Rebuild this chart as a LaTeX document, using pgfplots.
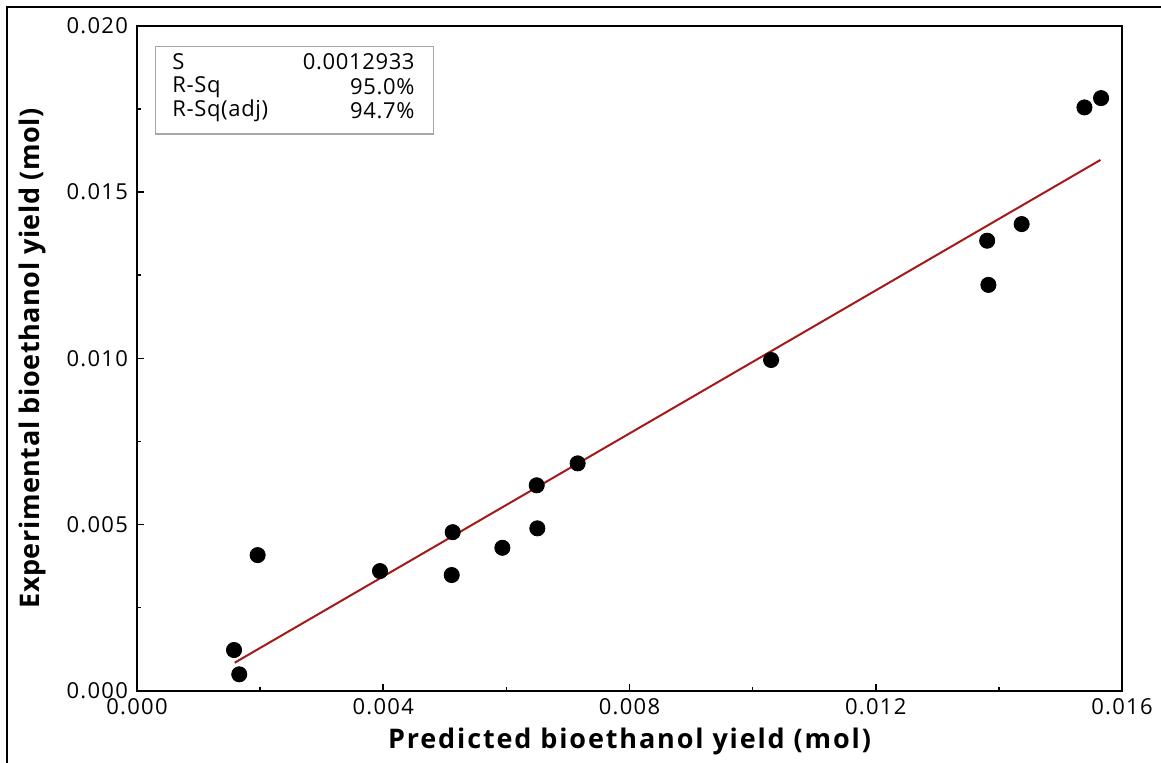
\documentclass[border=0pt]{standalone}
\usepackage{fontspec}
\setmainfont{Open Sans}
\usepackage{pgfplots}
\pgfplotsset{compat=1.18}
\definecolor{fitred}{RGB}{165,25,25}
\newfontfamily\tickfont[LetterSpace=6]{Open Sans}
\newfontfamily\boxfont[LetterSpace=3]{Open Sans}
\newfontfamily\xlabfont[LetterSpace=6.9]{Open Sans}
\newfontfamily\ylabfont[LetterSpace=2.1]{Open Sans}
\begin{document}
\begin{tikzpicture}
\path[use as bounding box] (-68.5bp,-36.15bp) rectangle (512bp,345.35bp);
\draw[line width=1.1bp] (-65bp,-40bp) -- (-65bp,341.85bp) -- (515bp,341.85bp);
\begin{axis}[
  scale only axis,
  width=492.5bp, height=332.35bp,
  xmin=0, xmax=0.016, ymin=0, ymax=0.020,
  xtick={0,0.004,0.008,0.012,0.016},
  ytick={0,0.005,0.010,0.015,0.020},
  minor x tick num=1, minor y tick num=1,
  tick align=inside, tick pos=left,
  major tick length=3.5bp, minor tick length=1.8bp,
  axis line style={line width=1bp},
  every tick/.style={black, line width=0.8bp},
  scaled ticks=false,
  /pgf/number format/.cd, fixed, fixed zerofill, precision=3, assume math mode=true,
  /pgfplots/.cd,
  tick label style={font=\tickfont\fontsize{11bp}{12bp}\selectfont},
  xticklabel style={yshift=-0.5bp},
  yticklabel style={xshift=-1bp},
  xlabel={Predicted bioethanol yield (mol)},
  ylabel={Experimental bioethanol yield (mol)},
  xlabel style={font=\xlabfont\fontsize{13.5bp}{15bp}\selectfont\bfseries, at={(axis description cs:0.5,-0.0757)}, anchor=center},
  ylabel style={font=\ylabfont\fontsize{13.5bp}{15bp}\selectfont\bfseries, at={(axis description cs:-0.1066,0.5)}, anchor=center, rotate=0},
  clip=false,
]
\addplot[fitred, line width=1bp] coordinates {(0.001587,0.000842) (0.01565,0.01597)};
\addplot[only marks, mark=*, mark size=3.8bp, black] coordinates {
(0.001576,0.001224)
(0.001661,0.000493)
(0.001960,0.004080)
(0.003947,0.003600)
(0.005128,0.004770)
(0.005112,0.003480)
(0.005935,0.004300)
(0.006493,0.006180)
(0.006503,0.004885)
(0.007158,0.006840)
(0.010300,0.009950)
(0.015390,0.017550)
(0.015660,0.017830)
(0.014370,0.014040)
(0.013810,0.013540)
(0.013830,0.012210)
};
\draw[gray!70, line width=0.7bp] (axis description cs:0.019,0.8375) rectangle (axis description cs:0.3008,0.9688);
\node[anchor=west, font=\boxfont\fontsize{11bp}{12bp}\selectfont, inner sep=0pt] at (axis description cs:0.0355,0.9458) {S};
\node[anchor=west, font=\boxfont\fontsize{11bp}{12bp}\selectfont, inner sep=0pt] at (axis description cs:0.0355,0.908) {R-Sq};
\node[anchor=west, font=\boxfont\fontsize{11bp}{12bp}\selectfont, inner sep=0pt] at (axis description cs:0.0355,0.872) {R-Sq(adj)};
\node[anchor=east, font=\boxfont\fontsize{11bp}{12bp}\selectfont, inner sep=0pt] at (axis description cs:0.2822,0.9458) {0.0012933};
\node[anchor=east, font=\boxfont\fontsize{11bp}{12bp}\selectfont, inner sep=0pt] at (axis description cs:0.2822,0.908) {95.0\%};
\node[anchor=east, font=\boxfont\fontsize{11bp}{12bp}\selectfont, inner sep=0pt] at (axis description cs:0.2822,0.872) {94.7\%};
\end{axis}
\end{tikzpicture}
\end{document}
